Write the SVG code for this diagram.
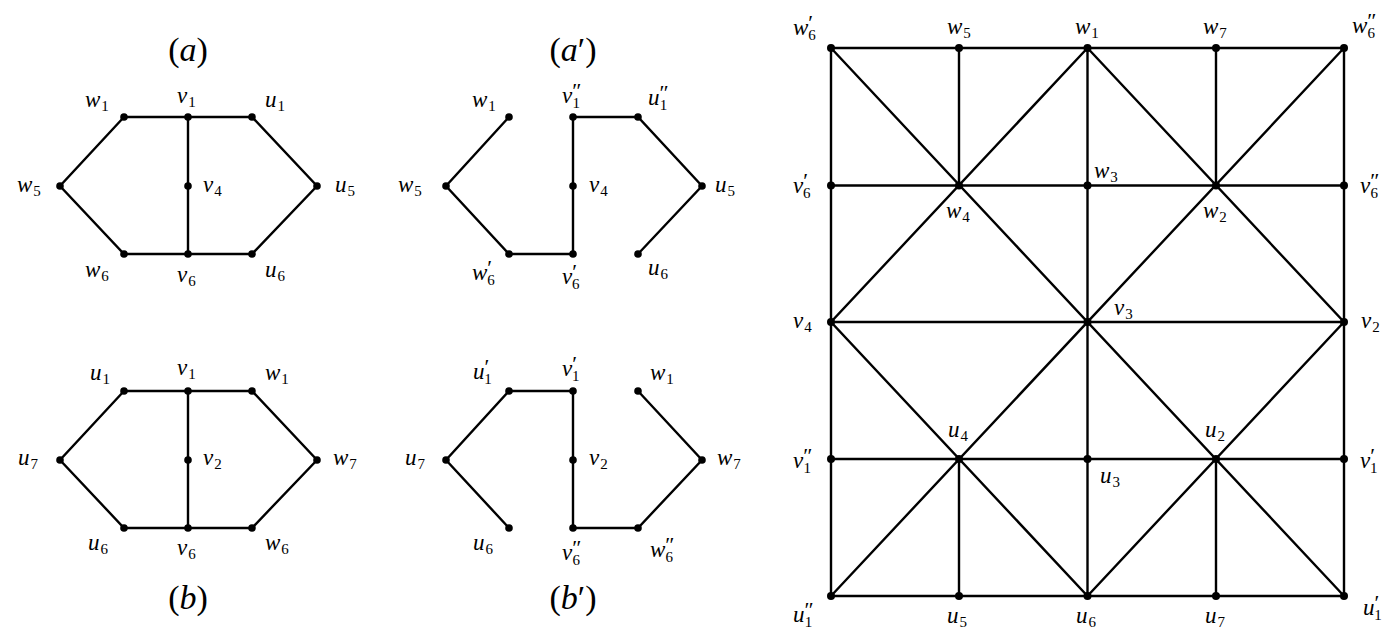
<svg xmlns="http://www.w3.org/2000/svg" width="1398" height="633" viewBox="0 0 1398 633">
<style>
.e line, .e polyline { stroke:#000; stroke-width:2.4; fill:none; stroke-linecap:round; }
circle { fill:#000; }
text { font-family:"Liberation Serif","DejaVu Serif",serif; fill:#000; }
.m { font-size:23px; font-style:italic; }
.s { font-size:15px; font-style:normal; }
.p { font-size:22px; font-style:normal; }
.t { font-size:34px; }
.t tspan { font-style:italic; }
</style>
<rect width="1398" height="633" fill="#fff"/>
<g id="connectors" class="e">
  <polyline points="124,117 60,186 124,254 252,254 317,186 252,117 124,117"/>
  <line x1="188" y1="117" x2="188" y2="254"/>
  <polyline points="509,117 446,186 509,254 573,254 573,117 638,117 702,186 638,254"/>
  <polyline points="124,391 60,460 124,528 252,528 317,460 252,391 124,391"/>
  <line x1="188" y1="391" x2="188" y2="528"/>
  <polyline points="573,391 509,391 446,460 509,528"/>
  <polyline points="573,391 573,528 638,528 702,460 638,391"/>
  <line x1="831" y1="48" x2="1344" y2="48"/>
  <line x1="831" y1="185.5" x2="1344" y2="185.5"/>
  <line x1="831" y1="322" x2="1344" y2="322"/>
  <line x1="831" y1="459" x2="1344" y2="459"/>
  <line x1="831" y1="596" x2="1344" y2="596"/>
  <line x1="831" y1="48" x2="831" y2="596"/>
  <line x1="1087.5" y1="48" x2="1087.5" y2="596"/>
  <line x1="1344" y1="48" x2="1344" y2="596"/>
  <line x1="959" y1="48" x2="959" y2="185.5"/>
  <line x1="959" y1="459" x2="959" y2="596"/>
  <line x1="1216" y1="48" x2="1216" y2="185.5"/>
  <line x1="1216" y1="459" x2="1216" y2="596"/>
  <line x1="831" y1="48" x2="1344" y2="596"/>
  <line x1="1344" y1="48" x2="831" y2="596"/>
  <polyline points="1087.5,48 831,322 1087.5,596 1344,322 1087.5,48"/>
</g>

<g id="title-a"><text class="t" x="188" y="61" text-anchor="middle">(<tspan>a</tspan>)</text></g>
<g id="title-ap"><text class="t" x="573" y="61" text-anchor="middle">(<tspan>a</tspan>′)</text></g>
<g id="title-b"><text class="t" x="188" y="609" text-anchor="middle">(<tspan>b</tspan>)</text></g>
<g id="title-bp"><text class="t" x="573" y="609" text-anchor="middle">(<tspan>b</tspan>′)</text></g>

<g id="a-w1"><circle cx="124" cy="117" r="3.8"/><text class="m" x="85" y="107">w<tspan class="s" dx="1" dy="4">1</tspan></text></g>
<g id="a-v1"><circle cx="188" cy="117" r="3.8"/><text class="m" x="177" y="103">v<tspan class="s" dx="1" dy="4">1</tspan></text></g>
<g id="a-u1"><circle cx="252" cy="117" r="3.8"/><text class="m" x="265" y="107">u<tspan class="s" dx="1" dy="4">1</tspan></text></g>
<g id="a-w5"><circle cx="60" cy="186" r="3.8"/><text class="m" x="17" y="192">w<tspan class="s" dx="1" dy="4">5</tspan></text></g>
<g id="a-v4"><circle cx="188" cy="186" r="3.8"/><text class="m" x="203" y="192">v<tspan class="s" dx="1" dy="4">4</tspan></text></g>
<g id="a-u5"><circle cx="317" cy="186" r="3.8"/><text class="m" x="335" y="192">u<tspan class="s" dx="1" dy="4">5</tspan></text></g>
<g id="a-w6"><circle cx="124" cy="254" r="3.8"/><text class="m" x="85" y="277">w<tspan class="s" dx="1" dy="4">6</tspan></text></g>
<g id="a-v6"><circle cx="188" cy="254" r="3.8"/><text class="m" x="177" y="282">v<tspan class="s" dx="1" dy="4">6</tspan></text></g>
<g id="a-u6"><circle cx="252" cy="254" r="3.8"/><text class="m" x="265" y="277">u<tspan class="s" dx="1" dy="4">6</tspan></text></g>

<g id="ap-w1"><circle cx="509" cy="117" r="3.8"/><text class="m" x="472" y="107">w<tspan class="s" dx="1" dy="4">1</tspan></text></g>
<g id="ap-v1pp"><circle cx="573" cy="117" r="3.8"/><text class="m" x="562" y="103">v<tspan class="p" dx="0" dy="-5">″</tspan><tspan class="s" dx="-9" dy="10">1</tspan></text></g>
<g id="ap-u1pp"><circle cx="638" cy="117" r="3.8"/><text class="m" x="648" y="105">u<tspan class="p" dx="0" dy="-5">″</tspan><tspan class="s" dx="-9" dy="10">1</tspan></text></g>
<g id="ap-w5"><circle cx="446" cy="186" r="3.8"/><text class="m" x="398" y="192">w<tspan class="s" dx="1" dy="4">5</tspan></text></g>
<g id="ap-v4"><circle cx="573" cy="186" r="3.8"/><text class="m" x="589" y="192">v<tspan class="s" dx="1" dy="4">4</tspan></text></g>
<g id="ap-u5"><circle cx="702" cy="186" r="3.8"/><text class="m" x="715" y="192">u<tspan class="s" dx="1" dy="4">5</tspan></text></g>
<g id="ap-w6p"><circle cx="509" cy="254" r="3.8"/><text class="m" x="472" y="280">w<tspan class="p" dx="0" dy="-5">′</tspan><tspan class="s" dx="-5" dy="10">6</tspan></text></g>
<g id="ap-v6p"><circle cx="573" cy="254" r="3.8"/><text class="m" x="562" y="284">v<tspan class="p" dx="0" dy="-5">′</tspan><tspan class="s" dx="-5" dy="10">6</tspan></text></g>
<g id="ap-u6"><circle cx="638" cy="254" r="3.8"/><text class="m" x="648" y="275">u<tspan class="s" dx="1" dy="4">6</tspan></text></g>

<g id="b-u1"><circle cx="124" cy="391" r="3.8"/><text class="m" x="90" y="380">u<tspan class="s" dx="1" dy="4">1</tspan></text></g>
<g id="b-v1"><circle cx="188" cy="391" r="3.8"/><text class="m" x="177" y="375">v<tspan class="s" dx="1" dy="4">1</tspan></text></g>
<g id="b-w1"><circle cx="252" cy="391" r="3.8"/><text class="m" x="265" y="380">w<tspan class="s" dx="1" dy="4">1</tspan></text></g>
<g id="b-u7"><circle cx="60" cy="460" r="3.8"/><text class="m" x="18" y="465">u<tspan class="s" dx="1" dy="4">7</tspan></text></g>
<g id="b-v2"><circle cx="188" cy="460" r="3.8"/><text class="m" x="203" y="465">v<tspan class="s" dx="1" dy="4">2</tspan></text></g>
<g id="b-w7"><circle cx="317" cy="460" r="3.8"/><text class="m" x="333" y="465">w<tspan class="s" dx="1" dy="4">7</tspan></text></g>
<g id="b-u6"><circle cx="124" cy="528" r="3.8"/><text class="m" x="88" y="550">u<tspan class="s" dx="1" dy="4">6</tspan></text></g>
<g id="b-v6"><circle cx="188" cy="528" r="3.8"/><text class="m" x="177" y="555">v<tspan class="s" dx="1" dy="4">6</tspan></text></g>
<g id="b-w6"><circle cx="252" cy="528" r="3.8"/><text class="m" x="265" y="550">w<tspan class="s" dx="1" dy="4">6</tspan></text></g>

<g id="bp-u1p"><circle cx="509" cy="391" r="3.8"/><text class="m" x="473" y="379">u<tspan class="p" dx="0" dy="-5">′</tspan><tspan class="s" dx="-5" dy="10">1</tspan></text></g>
<g id="bp-v1p"><circle cx="573" cy="391" r="3.8"/><text class="m" x="562" y="376">v<tspan class="p" dx="0" dy="-5">′</tspan><tspan class="s" dx="-5" dy="10">1</tspan></text></g>
<g id="bp-w1"><circle cx="638" cy="391" r="3.8"/><text class="m" x="650" y="380">w<tspan class="s" dx="1" dy="4">1</tspan></text></g>
<g id="bp-u7"><circle cx="446" cy="460" r="3.8"/><text class="m" x="405" y="465">u<tspan class="s" dx="1" dy="4">7</tspan></text></g>
<g id="bp-v2"><circle cx="573" cy="460" r="3.8"/><text class="m" x="589" y="465">v<tspan class="s" dx="1" dy="4">2</tspan></text></g>
<g id="bp-w7"><circle cx="702" cy="460" r="3.8"/><text class="m" x="717" y="465">w<tspan class="s" dx="1" dy="4">7</tspan></text></g>
<g id="bp-u6"><circle cx="509" cy="528" r="3.8"/><text class="m" x="473" y="550">u<tspan class="s" dx="1" dy="4">6</tspan></text></g>
<g id="bp-v6pp"><circle cx="573" cy="528" r="3.8"/><text class="m" x="562" y="560">v<tspan class="p" dx="0" dy="-5">″</tspan><tspan class="s" dx="-9" dy="10">6</tspan></text></g>
<g id="bp-w6pp"><circle cx="638" cy="528" r="3.8"/><text class="m" x="650" y="557">w<tspan class="p" dx="0" dy="-5">″</tspan><tspan class="s" dx="-9" dy="10">6</tspan></text></g>

<g id="g-w6p"><circle cx="831" cy="48" r="4"/><text class="m" x="793" y="35">w<tspan class="p" dx="0" dy="-5">′</tspan><tspan class="s" dx="-5" dy="10">6</tspan></text></g>
<g id="g-w5"><circle cx="959" cy="48" r="4"/><text class="m" x="947" y="34">w<tspan class="s" dx="1" dy="4">5</tspan></text></g>
<g id="g-w1"><circle cx="1087.5" cy="48" r="4"/><text class="m" x="1075" y="34">w<tspan class="s" dx="1" dy="4">1</tspan></text></g>
<g id="g-w7"><circle cx="1216" cy="48" r="4"/><text class="m" x="1203" y="34">w<tspan class="s" dx="1" dy="4">7</tspan></text></g>
<g id="g-w6pp"><circle cx="1344" cy="48" r="4"/><text class="m" x="1352" y="33">w<tspan class="p" dx="0" dy="-5">″</tspan><tspan class="s" dx="-9" dy="10">6</tspan></text></g>
<g id="g-v6p"><circle cx="831" cy="185.5" r="4"/><text class="m" x="793" y="193">v<tspan class="p" dx="0" dy="-5">′</tspan><tspan class="s" dx="-5" dy="10">6</tspan></text></g>
<g id="g-w4"><circle cx="959" cy="185.5" r="4"/><text class="m" x="946" y="218">w<tspan class="s" dx="1" dy="4">4</tspan></text></g>
<g id="g-w3"><circle cx="1087.5" cy="185.5" r="4"/><text class="m" x="1094" y="178">w<tspan class="s" dx="1" dy="4">3</tspan></text></g>
<g id="g-w2"><circle cx="1216" cy="185.5" r="4"/><text class="m" x="1203" y="218">w<tspan class="s" dx="1" dy="4">2</tspan></text></g>
<g id="g-v6pp"><circle cx="1344" cy="185.5" r="4"/><text class="m" x="1360" y="193">v<tspan class="p" dx="0" dy="-5">″</tspan><tspan class="s" dx="-9" dy="10">6</tspan></text></g>
<g id="g-v4"><circle cx="831" cy="322" r="4"/><text class="m" x="793" y="328">v<tspan class="s" dx="1" dy="4">4</tspan></text></g>
<g id="g-v3"><circle cx="1087.5" cy="322" r="4"/><text class="m" x="1114" y="315">v<tspan class="s" dx="1" dy="4">3</tspan></text></g>
<g id="g-v2"><circle cx="1344" cy="322" r="4"/><text class="m" x="1361" y="328">v<tspan class="s" dx="1" dy="4">2</tspan></text></g>
<g id="g-v1pp"><circle cx="831" cy="459" r="4"/><text class="m" x="793" y="468">v<tspan class="p" dx="0" dy="-5">″</tspan><tspan class="s" dx="-9" dy="10">1</tspan></text></g>
<g id="g-u4"><circle cx="959" cy="459" r="4"/><text class="m" x="948" y="437">u<tspan class="s" dx="1" dy="4">4</tspan></text></g>
<g id="g-u3"><circle cx="1087.5" cy="459" r="4"/><text class="m" x="1100" y="483">u<tspan class="s" dx="1" dy="4">3</tspan></text></g>
<g id="g-u2"><circle cx="1216" cy="459" r="4"/><text class="m" x="1205" y="437">u<tspan class="s" dx="1" dy="4">2</tspan></text></g>
<g id="g-v1p"><circle cx="1344" cy="459" r="4"/><text class="m" x="1360" y="468">v<tspan class="p" dx="0" dy="-5">′</tspan><tspan class="s" dx="-5" dy="10">1</tspan></text></g>
<g id="g-u1pp"><circle cx="831" cy="596" r="4"/><text class="m" x="793" y="622">u<tspan class="p" dx="0" dy="-5">″</tspan><tspan class="s" dx="-9" dy="10">1</tspan></text></g>
<g id="g-u5"><circle cx="959" cy="596" r="4"/><text class="m" x="947" y="623">u<tspan class="s" dx="1" dy="4">5</tspan></text></g>
<g id="g-u6"><circle cx="1087.5" cy="596" r="4"/><text class="m" x="1076" y="623">u<tspan class="s" dx="1" dy="4">6</tspan></text></g>
<g id="g-u7"><circle cx="1216" cy="596" r="4"/><text class="m" x="1205" y="623">u<tspan class="s" dx="1" dy="4">7</tspan></text></g>
<g id="g-u1p"><circle cx="1344" cy="596" r="4"/><text class="m" x="1363" y="615">u<tspan class="p" dx="0" dy="-5">′</tspan><tspan class="s" dx="-5" dy="10">1</tspan></text></g>
</svg>
